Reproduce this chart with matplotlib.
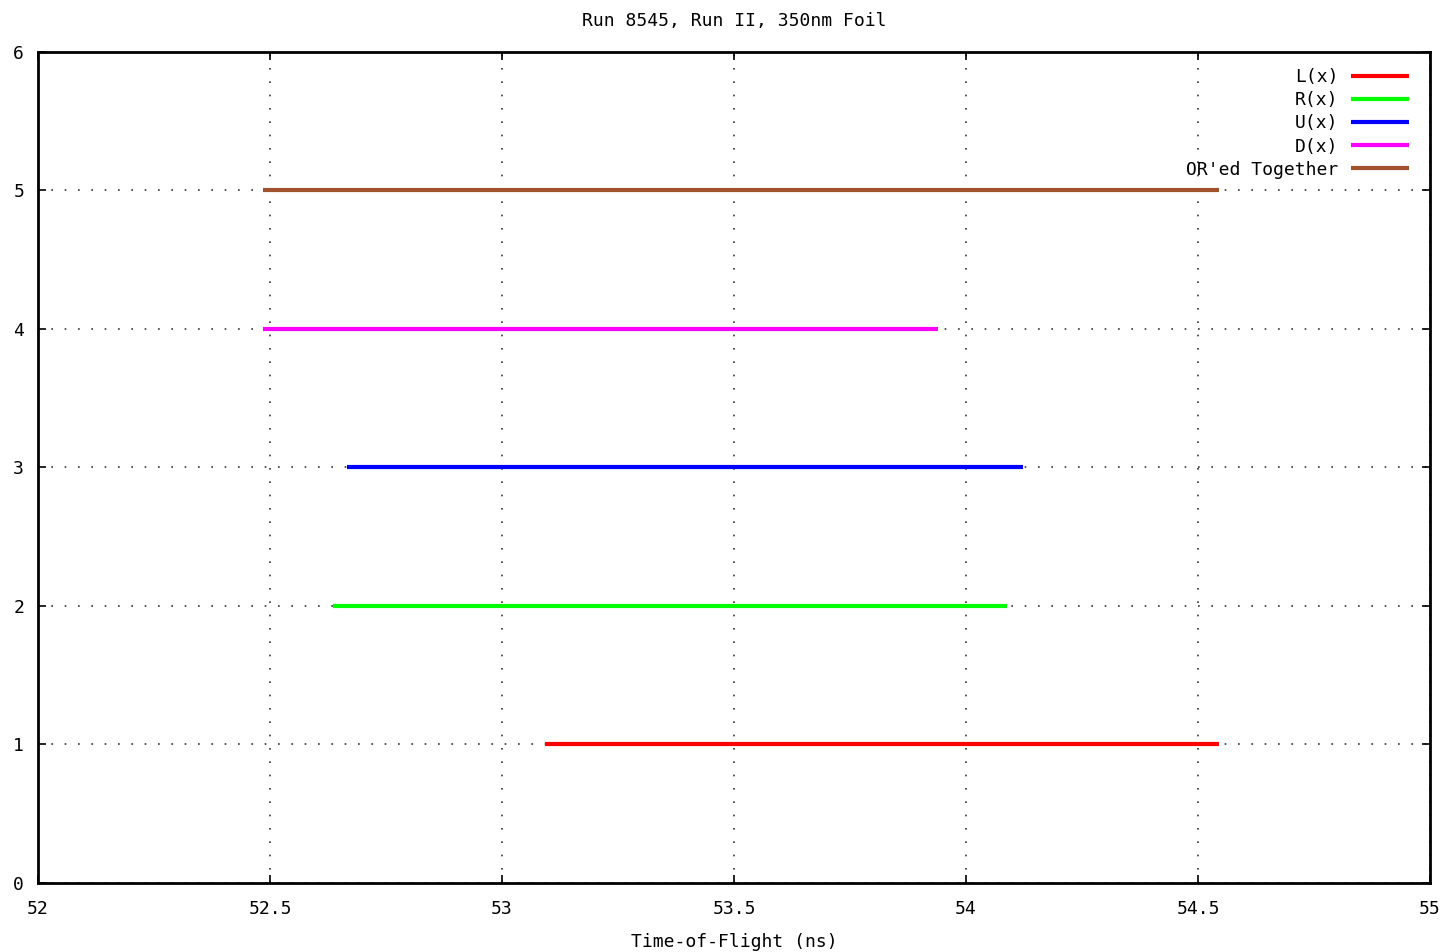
import matplotlib
matplotlib.use("Agg")
import matplotlib.pyplot as plt

# channel data: level on y axis, start/stop time-of-flight window (ns)
labels = ["L(x)", "R(x)", "U(x)", "D(x)", "OR'ed Together"]
levels = [1, 2, 3, 4, 5]
t_start = [53.093, 52.636, 52.666, 52.485, 52.485]
t_stop = [54.545, 54.088, 54.123, 53.940, 54.545]
colours = ["#ff0000", "#00ff00", "#0000ff", "#ff00ff", "#a0522d"]

x_ticks = [52, 52.5, 53, 53.5, 54, 54.5, 55]
x_ticklabels = ["52", "52.5", "53", "53.5", "54", "54.5", "55"]
y_ticks = [0, 1, 2, 3, 4, 5, 6]

plt.rcParams['font.family'] = ['DejaVu Sans Mono']
plt.rcParams['font.size'] = 13

fig = plt.figure(figsize=(14.48, 9.52), dpi=100)
ax = fig.add_axes([0.02624, 0.07248, 0.96133, 0.8729])

for lv, a, b, c, lab in zip(levels, t_start, t_stop, colours, labels):
    ax.plot([a, b], [lv, lv], color=c, lw=3, solid_capstyle='butt', label=lab, zorder=3)

ax.set_xlim(52, 55)
ax.set_ylim(0, 6)
ax.set_xticks(x_ticks)
ax.set_xticklabels(x_ticklabels)
ax.set_yticks(y_ticks)
ax.tick_params(direction='in', top=True, right=True, length=6, width=1.2)
ax.tick_params(axis='x', pad=12)
ax.tick_params(axis='y', pad=10)
for sp in ax.spines.values():
    sp.set_linewidth(2)

ax.grid(True, linestyle=(0, (1, 7)), color='#333333', lw=1.2)
ax.set_axisbelow(True)

ax.set_title("Run 8545, Run II, 350nm Foil", fontsize=13, pad=19)
ax.set_xlabel("Time-of-Flight (ns)", labelpad=11)

leg = ax.legend(loc='upper right', bbox_to_anchor=(0.9885, 0.9868), frameon=False,
                markerfirst=False, handlelength=3.2, labelspacing=0.28, borderaxespad=0,
                borderpad=0.3, handletextpad=0.7, fontsize=13)

fig.savefig("out.png", dpi=100)
